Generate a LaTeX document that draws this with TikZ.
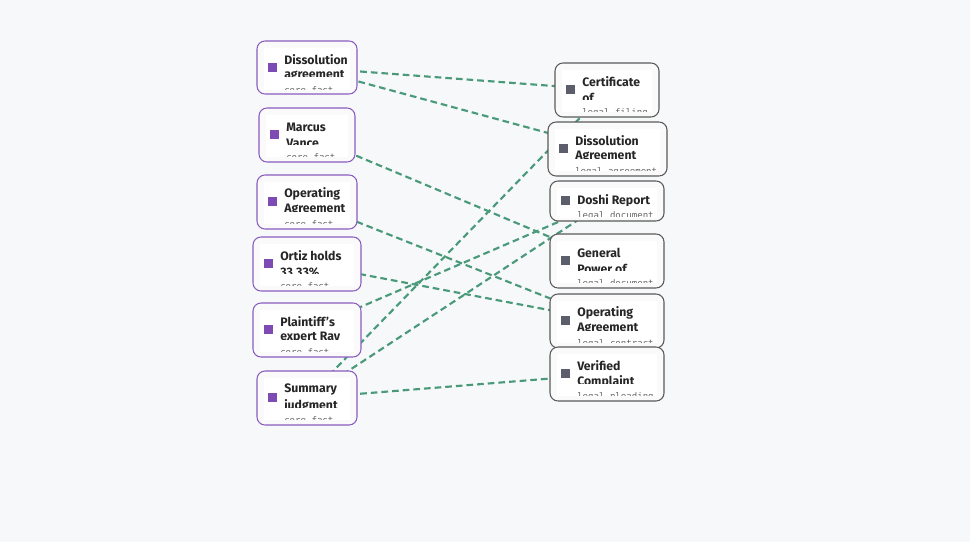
\documentclass[tikz,border=0pt]{standalone}
\usepackage{fontspec}
\setmainfont{Fira Sans}
\setmonofont{DejaVu Sans Mono}
\usetikzlibrary{calc}
\definecolor{bg}{HTML}{F6F8FA}
\definecolor{pur}{HTML}{8A5CC0}
\definecolor{sqL}{HTML}{7E4BB5}
\definecolor{gry}{HTML}{5A5A5A}
\definecolor{sqR}{HTML}{5C5F6B}
\definecolor{edg}{HTML}{4A9A7A}
\tikzset{
  edge/.style={draw=edg, line width=1.6pt, dash pattern=on 5pt off 3pt},
  outerL/.style={draw=pur, line width=0.8pt, fill=white!96!gray, rounded corners=6pt},
  outerR/.style={draw=gry, line width=0.8pt, fill=white!96!gray, rounded corners=6pt},
  ttl/.style={anchor=west, font=\fontsize{9.2}{10}\selectfont\bfseries, inner sep=0pt, text=black!85},
  sub/.style={anchor=west, font=\fontsize{6.8}{8}\selectfont\ttfamily, inner sep=0pt, text=black!60},
}
% \bx{name}{x1}{y1}{x2}{y2}{line1}{line2}{sub}{L/R}
\newcommand\bx[9]{%
  \path[outer#9] (#2,#3) rectangle (#4,#5);
  \fill[white] (#2+7,#3+7) rectangle (#4-7,#3+49);
  \fill[sq#9] (#2+11,#3+22) rectangle (#2+20,#3+31);
  \begin{scope}
    \clip (#2,#3+7) rectangle (#4-7,#3+36);
    \node[ttl] at (#2+27,#3+19) {#6};
    \node[ttl] at (#2+27,#3+35) {#7};
  \end{scope}
  \begin{scope}
    \clip (#2,#3+42) rectangle (#4-7,#3+48.5);
    \node[sub] at (#2+27,#3+50) {#8};
  \end{scope}
}
\begin{document}
\begin{tikzpicture}[x=0.75pt,y=-0.75pt]
\fill[bg] (0,0) rectangle (970,542);
\useasboundingbox (0,0) rectangle (970,542);
\coordinate (l1) at (307,67.5);
\coordinate (l2) at (307,135);
\coordinate (l3) at (307,202);
\coordinate (l4) at (307,264);
\coordinate (l5) at (307,330);
\coordinate (l6) at (307,398);
\coordinate (r1) at (607,90);
\coordinate (r2) at (607,149);
\coordinate (r3) at (607,201);
\coordinate (r4) at (607,261);
\coordinate (r5) at (607,321);
\coordinate (r6) at (607,374);
\draw[edge] (l1) -- (r1);
\draw[edge] (l1) -- (r2);
\draw[edge] (l2) -- (r4);
\draw[edge] (l3) -- (r5);
\draw[edge] (l4) -- (r5);
\draw[edge] (l5) -- (r3);
\draw[edge] (l6) -- (r1);
\draw[edge] (l6) -- (r3);
\draw[edge] (l6) -- (r6);
\bx{L1}{257}{41}{357}{94}{Dissolution}{agreement}{core\_fact}{L}
\bx{L2}{259}{108}{355}{162}{Marcus}{Vance}{core\_fact}{L}
\bx{L3}{257}{175}{357}{229}{Operating}{Agreement}{core\_fact}{L}
\bx{L4}{253}{237}{361}{291}{Ortiz holds}{33.33\%}{core\_fact}{L}
\bx{L5}{253}{303}{361}{357}{Plaintiff's}{expert Ray}{core\_fact}{L}
\bx{L6}{257}{371}{357}{425}{Summary}{judgment}{core\_fact}{L}
\bx{R1}{555}{63}{659}{117}{Certificate}{of}{legal\_filing}{R}
\bx{R2}{548}{122}{667}{176}{Dissolution}{Agreement}{legal\_agreement}{R}
\path[outerR] (550,181) rectangle (664,221);
\fill[white] (557,188) rectangle (657,218);
\fill[sqR] (561,196) rectangle (570,205);
\begin{scope}\clip (550,188) rectangle (657,205);
\node[ttl] at (577,201) {Doshi Report};\end{scope}
\begin{scope}\clip (550,209) rectangle (657,216);
\node[sub] at (577,216.5) {legal\_document};\end{scope}
\bx{R4}{550}{234}{664}{288}{General}{Power of}{legal\_document}{R}
\bx{R5}{550}{294}{664}{348}{Operating}{Agreement}{legal\_contract}{R}
\bx{R6}{550}{347}{664}{401}{Verified}{Complaint}{legal\_pleading}{R}
\end{tikzpicture}
\end{document}
